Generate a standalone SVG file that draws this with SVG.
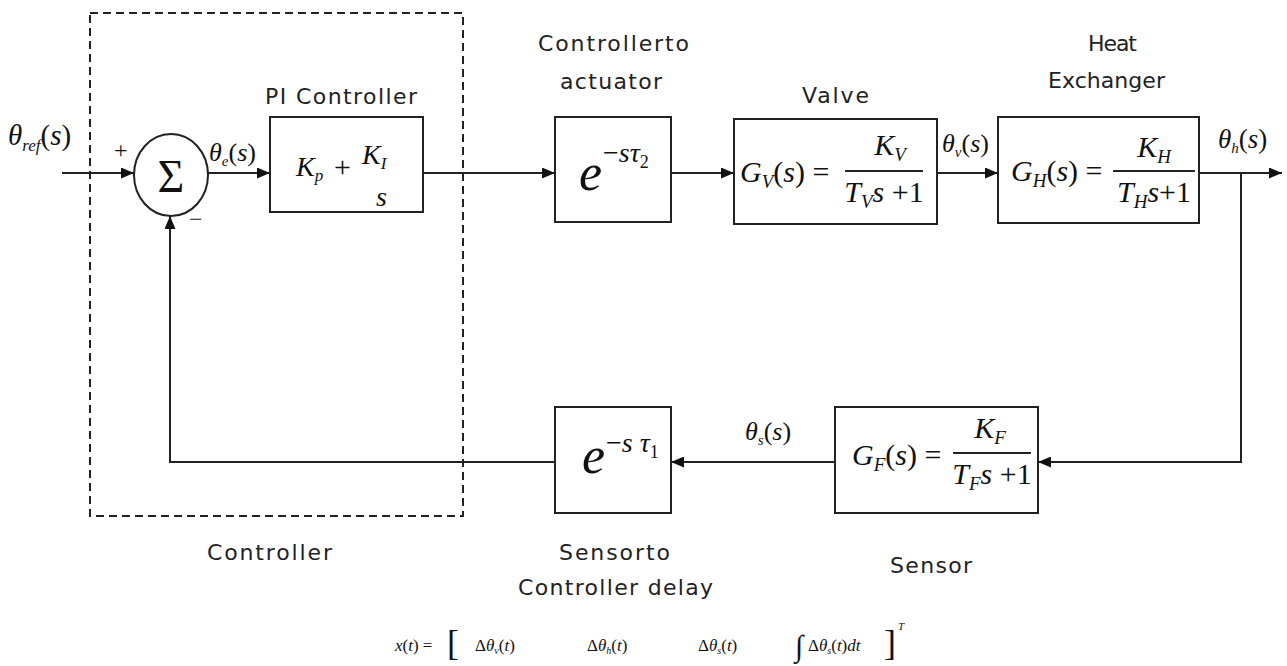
<svg xmlns="http://www.w3.org/2000/svg" width="1287" height="666" viewBox="0 0 1287 666">
<style>
.box{fill:#fff;stroke:#222;stroke-width:2}
.ln{fill:none;stroke:#222;stroke-width:2}
.lbl{font-family:"DejaVu Sans","Liberation Sans",sans-serif;font-size:22px;fill:#222}
.m{font-family:"Liberation Serif","DejaVu Serif",serif;font-style:italic;fill:#111}
.u{font-style:normal}
</style>
<defs>
<marker id="ah" markerUnits="userSpaceOnUse" markerWidth="13" markerHeight="11" refX="13" refY="5.5" orient="auto">
<path d="M0,0 L13,5.5 L0,11 z" fill="#111"/>
</marker>
</defs>
<rect width="1287" height="666" fill="#fff"/>

<g id="controller-boundary">
<rect x="90" y="13" width="373" height="503" fill="none" stroke="#222" stroke-width="2" stroke-dasharray="8,5"/>
<text class="lbl" x="207" y="560" textLength="125">Controller</text>
</g>

<g id="connectors">
<line class="ln" x1="62" y1="173" x2="134" y2="173" marker-end="url(#ah)"/>
<line class="ln" x1="208" y1="173" x2="270" y2="173" marker-end="url(#ah)"/>
<line class="ln" x1="423" y1="173" x2="555" y2="173" marker-end="url(#ah)"/>
<line class="ln" x1="671" y1="173" x2="734" y2="173" marker-end="url(#ah)"/>
<line class="ln" x1="937" y1="173" x2="998" y2="173" marker-end="url(#ah)"/>
<line class="ln" x1="1199" y1="173" x2="1282" y2="173" marker-end="url(#ah)"/>
<polyline class="ln" points="1241,173 1241,462 1038,462" marker-end="url(#ah)"/>
<line class="ln" x1="835" y1="462" x2="671" y2="462" marker-end="url(#ah)"/>
<polyline class="ln" points="555,462 170,462 170,216" marker-end="url(#ah)"/>
</g>

<g id="signal-labels">
<text class="m" x="8" y="145" font-size="29">θ<tspan font-size="17" dy="6">ref</tspan><tspan dy="-6" class="u">(</tspan>s<tspan class="u">)</tspan></text>
<text class="m" x="114" y="158" font-size="24"><tspan class="u">+</tspan></text>
<text class="m" x="189" y="227" font-size="24"><tspan class="u">−</tspan></text>
<text class="m" x="209" y="161" font-size="26">θ<tspan font-size="15" dy="5">e</tspan><tspan dy="-5" class="u">(</tspan>s<tspan class="u">)</tspan></text>
<text class="m" x="942" y="152" font-size="26">θ<tspan font-size="15" dy="5">v</tspan><tspan dy="-5" class="u">(</tspan>s<tspan class="u">)</tspan></text>
<text class="m" x="1218" y="148" font-size="27">θ<tspan font-size="15" dy="5">h</tspan><tspan dy="-5" class="u">(</tspan>s<tspan class="u">)</tspan></text>
<text class="m" x="745" y="440" font-size="26">θ<tspan font-size="15" dy="5">s</tspan><tspan dy="-5" class="u">(</tspan>s<tspan class="u">)</tspan></text>
</g>

<g id="sum">
<ellipse class="box" cx="171" cy="175" rx="37" ry="41"/>
<text x="171" y="192" text-anchor="middle" font-family="Liberation Serif,serif" font-size="46" fill="#111">Σ</text>
</g>

<g id="pi-controller">
<text class="lbl" x="265" y="104" textLength="152">PI Controller</text>
<rect class="box" x="270" y="117" width="153" height="95"/>
<text class="m" x="296" y="176" font-size="28">K<tspan font-size="17" dy="5">p</tspan></text>
<text class="m" x="334" y="177" font-size="30"><tspan class="u">+</tspan></text>
<text class="m" x="362" y="164" font-size="28">K<tspan font-size="17" dy="5">I</tspan></text>
<text class="m" x="376" y="206" font-size="28">s</text>
</g>

<g id="controller-actuator-delay">
<text class="lbl" x="538" y="51" textLength="151">Controllerto</text>
<text class="lbl" x="560" y="89" textLength="102">actuator</text>
<rect class="box" x="555" y="117" width="116" height="105"/>
<text class="m" x="579" y="190" font-size="52">e</text>
<text class="m" x="603" y="162" font-size="28"><tspan class="u">−</tspan>sτ<tspan font-size="18" dy="6" class="u">2</tspan></text>
</g>

<g id="valve">
<text class="lbl" x="802" y="103" textLength="67">Valve</text>
<rect class="box" x="734" y="119" width="203" height="105"/>
<text class="m" x="740" y="182" font-size="30">G<tspan font-size="19" dy="6">V</tspan><tspan dy="-6" class="u">(</tspan>s<tspan class="u">) =</tspan></text>
<line class="ln" x1="845" y1="171" x2="923" y2="171" stroke-width="1.6"/>
<text class="m" x="890" y="155" font-size="30" text-anchor="middle">K<tspan font-size="19" dy="6">V</tspan></text>
<text class="m" x="884" y="202" font-size="30" text-anchor="middle">T<tspan font-size="19" dy="6">V</tspan><tspan dy="-6">s </tspan><tspan class="u">+1</tspan></text>
</g>

<g id="heat-exchanger">
<text class="lbl" x="1088" y="51" textLength="49">Heat</text>
<text class="lbl" x="1048" y="88" textLength="117">Exchanger</text>
<rect class="box" x="998" y="117" width="201" height="106"/>
<text class="m" x="1011" y="181" font-size="30">G<tspan font-size="19" dy="6">H</tspan><tspan dy="-6" class="u">(</tspan>s<tspan class="u">) =</tspan></text>
<line class="ln" x1="1113" y1="171" x2="1195" y2="171" stroke-width="1.6"/>
<text class="m" x="1154" y="157" font-size="30" text-anchor="middle">K<tspan font-size="19" dy="6">H</tspan></text>
<text class="m" x="1154" y="202" font-size="30" text-anchor="middle">T<tspan font-size="19" dy="6">H</tspan><tspan dy="-6">s</tspan><tspan class="u">+1</tspan></text>
</g>

<g id="sensor">
<rect class="box" x="835" y="407" width="203" height="106"/>
<text class="m" x="852" y="465" font-size="30">G<tspan font-size="19" dy="6">F</tspan><tspan dy="-6" class="u">(</tspan>s<tspan class="u">) =</tspan></text>
<line class="ln" x1="953" y1="453" x2="1031" y2="453" stroke-width="1.6"/>
<text class="m" x="990" y="438" font-size="30" text-anchor="middle">K<tspan font-size="19" dy="6">F</tspan></text>
<text class="m" x="992" y="484" font-size="30" text-anchor="middle">T<tspan font-size="19" dy="6">F</tspan><tspan dy="-6">s </tspan><tspan class="u">+1</tspan></text>
<text class="lbl" x="890" y="573" textLength="82">Sensor</text>
</g>

<g id="sensor-controller-delay">
<rect class="box" x="555" y="407" width="116" height="106"/>
<text class="m" x="582" y="473" font-size="52">e</text>
<text class="m" x="606" y="452" font-size="28"><tspan class="u">−</tspan>s τ<tspan font-size="18" dy="6" class="u">1</tspan></text>
<text class="lbl" x="559" y="560" textLength="111">Sensorto</text>
<text class="lbl" x="518" y="595" textLength="195">Controller delay</text>
</g>

<g id="state-vector" font-family="Liberation Serif,serif" font-size="17" fill="#111">
<text x="395" y="651"><tspan font-style="italic">x</tspan>(<tspan font-style="italic">t</tspan>) =</text>
<text x="447" y="655" font-size="36">[</text>
<text x="475" y="651">Δ<tspan font-style="italic">θ</tspan><tspan font-size="10" dy="3" font-style="italic">v</tspan><tspan dy="-3">(</tspan><tspan font-style="italic">t</tspan>)</text>
<text x="587" y="651">Δ<tspan font-style="italic">θ</tspan><tspan font-size="10" dy="3" font-style="italic">h</tspan><tspan dy="-3">(</tspan><tspan font-style="italic">t</tspan>)</text>
<text x="698" y="651">Δ<tspan font-style="italic">θ</tspan><tspan font-size="10" dy="3" font-style="italic">s</tspan><tspan dy="-3">(</tspan><tspan font-style="italic">t</tspan>)</text>
<text x="795" y="656" font-size="30">∫</text>
<text x="808" y="651">Δ<tspan font-style="italic">θ</tspan><tspan font-size="10" dy="3" font-style="italic">s</tspan><tspan dy="-3">(</tspan><tspan font-style="italic">t</tspan>)<tspan font-style="italic">dt</tspan></text>
<text x="884" y="655" font-size="36">]</text>
<text x="898" y="630" font-size="11" font-style="italic">T</text>
</g>
</svg>
